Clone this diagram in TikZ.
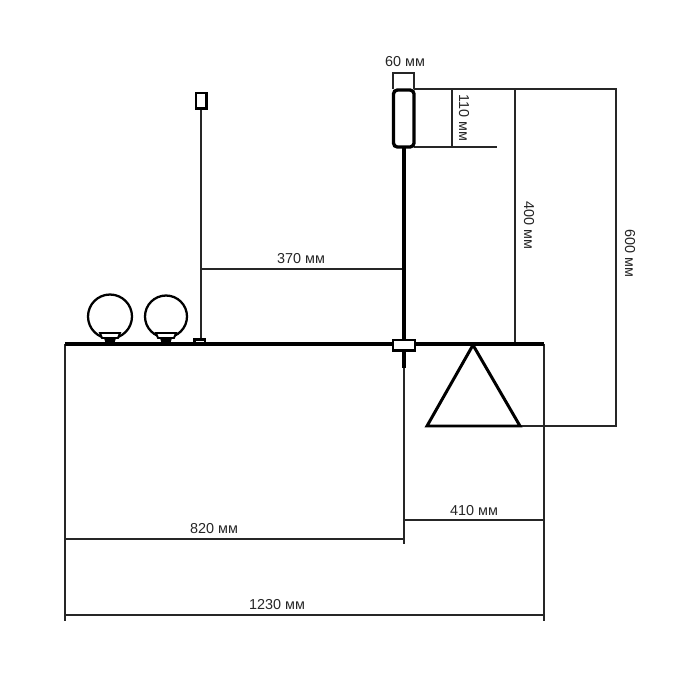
\documentclass[tikz,border=0pt]{standalone}
\usepackage{fontspec}
\setmainfont{Liberation Sans}
\tikzset{
  dim/.style={draw=black!85,line width=0.6pt},
  barline/.style={draw=black,line width=1.8pt},
  outline/.style={draw=black,line width=1.5pt,fill=white},
  lab/.style={font=\fontsize{8.2pt}{10pt}\selectfont,text=black!85,inner sep=0pt},
  labv/.style={lab,rotate=-90}}
\begin{document}
\begin{tikzpicture}[x=0.02cm,y=-0.02cm]
\useasboundingbox (0,0) rectangle (700,700);
% named points
\coordinate (barL) at (65,344);
\coordinate (barR) at (544,344);
\coordinate (jx) at (404,344);
\coordinate (lampTopR) at (414,89);
\coordinate (lampBotR) at (414,147);
\coordinate (triA) at (473,345);
\coordinate (triB) at (427,426);
\coordinate (triC) at (520,426);
% dimension lines
\draw[dim] (barL) -- (65,621);
\draw[dim] (barR) -- (544,621);
\draw[dim] (65,539) -- (404,539);
\draw[dim] (404,520) -- (544,520);
\draw[dim] (65,615) -- (544,615);
\draw[dim] (jx) -- (404,544);
\draw[dim] (200.5,269) -- (404,269);
\draw[dim] (lampTopR) -- (617,89);
\draw[dim] (lampBotR) -- (497,147);
\draw[dim] (452,89) -- (452,147);
\draw[dim] (515,89) -- (515,344);
\draw[dim] (616,89) -- (616,426);
\draw[dim] (triC) -- (617,426);
\draw[dim] (393,89) -- (393,73) -- (414,73) -- (414,89);
% small fitting on the left
\draw[draw=black!85,line width=0.9pt] (201,109) -- (201,340);
\draw[outline] (196,93) rectangle (206.5,108.5);
\draw[draw=black,line width=1.2pt,fill=white] (194.5,339.5) rectangle (205,344);
% main bar
\draw[barline] (barL) -- (barR);
% globes
\foreach \cx/\r in {110/22,166/21}{
  \draw[draw=black,line width=1.3pt,fill=white] (\cx,316.5) circle[radius=\r];
  \draw[draw=black,line width=1.1pt,fill=white] (\cx-10,333) -- (\cx+10,333) -- (\cx+8,338) -- (\cx-8,338) -- cycle;
  \fill[black] (\cx-6,338) -- (\cx+6,338) -- (\cx+4,344) -- (\cx-4,344) -- cycle;
}
% lamp
\draw[draw=black,line width=1.8pt] (404,147) -- (404,368);
\draw[draw=black,line width=1.9pt,fill=white,rounded corners=2.2pt] (393.5,90) rectangle (414,147);
\draw[outline] (393,340) rectangle (415,350.5);
% triangle
\draw[draw=black,line width=1.7pt,line join=miter] (triA) -- (triB) -- (triC) -- cycle;
% labels
\node[lab] (l60) at (405,62) {60 мм};
\node[labv] (l110) at (464,118) {110 мм};
\node[labv] (l400) at (529,225) {400 мм};
\node[labv] (l600) at (630,253) {600 мм};
\node[lab] (l370) at (301,259) {370 мм};
\node[lab] (l820) at (214,529) {820 мм};
\node[lab] (l410) at (474,511) {410 мм};
\node[lab] (l1230) at (277,605) {1230 мм};
\end{tikzpicture}
\end{document}
